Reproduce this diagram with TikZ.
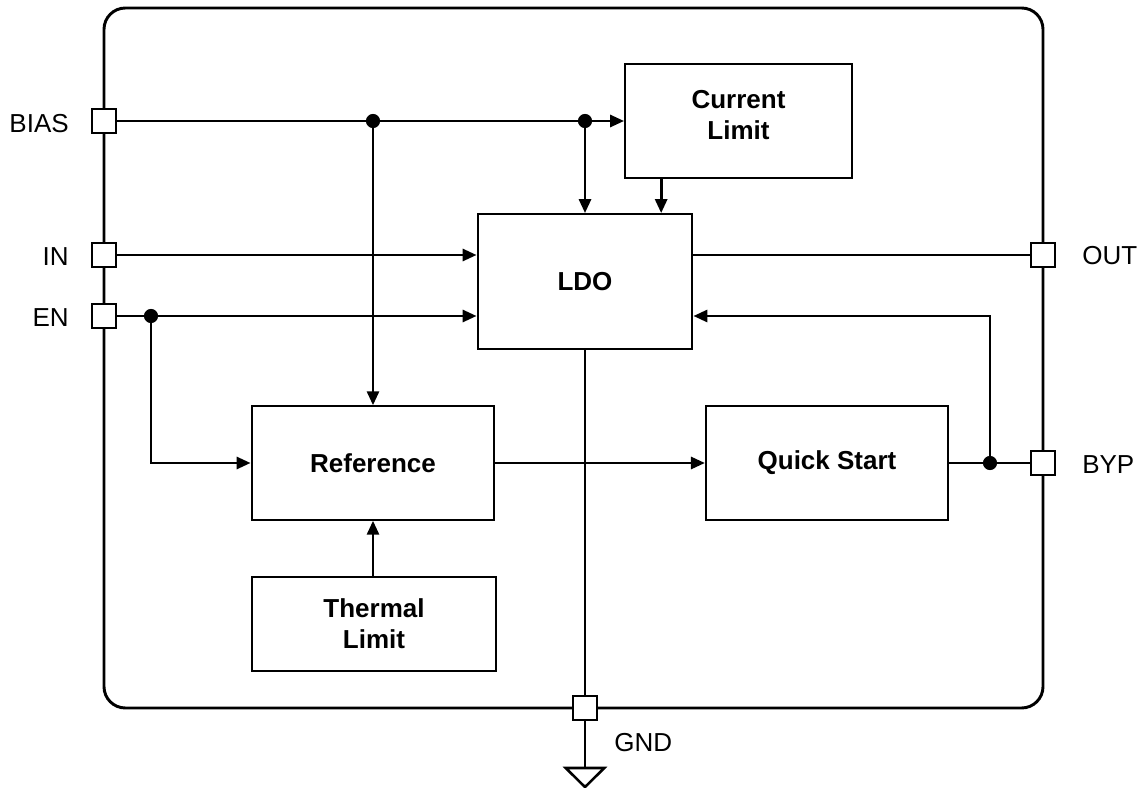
\documentclass[tikz,border=0pt]{standalone}
\usepackage{fontspec}
\setmainfont{Liberation Sans}
\usetikzlibrary{arrows.meta}
\begin{document}
\begin{tikzpicture}[x=0.75pt,y=-0.75pt,
  blk/.style={draw,line width=1.6pt,fill=white,align=center,font=\fontsize{19.5}{23}\selectfont\bfseries},
  wire/.style={line width=2.15pt},
  arr/.style={wire,-{Triangle[length=10.5pt,width=9pt]}},
  pin/.style={draw,line width=1.9pt,fill=white,minimum size=18pt,inner sep=0pt},
  lbl/.style={font=\fontsize{19.5}{24}\selectfont,inner sep=0pt},
  dot/.style={fill=black}]
\useasboundingbox (0,0) rectangle (1143,788);
% outer package
\draw[line width=2.2pt,rounded corners=16pt] (104,8) rectangle (1043,708);
% pin positions
\coordinate (pbias) at (104,121);
\coordinate (pin) at (104,255);
\coordinate (pen) at (104,316);
\coordinate (pout) at (1043,255);
\coordinate (pbyp) at (1043,463);
\coordinate (pgnd) at (585,708);
% blocks
\node[blk,minimum width=170pt,minimum height=85.5pt,text height=28pt] (cl) at (738.5,121) {Current\\Limit};
\node[blk,minimum width=161pt,minimum height=101pt] (ldo) at (585,281.5) {LDO};
\node[blk,minimum width=182pt,minimum height=85pt] (ref) at (373,463) {Reference};
\node[blk,minimum width=181.5pt,minimum height=85pt] (qs) at (827,463) {Quick Start};
\node[blk,minimum width=183pt,minimum height=70.5pt] (th) at (374,624) {Thermal\\Limit};
% junction dots
\coordinate (d1) at (373,121);
\coordinate (d2) at (585,121);
\coordinate (d3) at (151,316);
\coordinate (d4) at (990,463);
% connectors
\draw[arr] (pbias) -- (cl.west);
\draw[arr] (d1) -- (ref.north);
\draw[arr] (d2) -- (d2 |- ldo.north);
\draw[arr] ([xshift=-58pt]cl.south) -- ([xshift=-58pt]cl.south |- ldo.north);
\draw[arr] (pin) -- (pin -| ldo.west);
\draw[arr] (pen) -- (pen -| ldo.west);
\draw[arr] (d3) |- (ref.west);
\draw[arr] (ref.east) -- (qs.west);
\draw[wire] (qs.east) -- (pbyp);
\draw[arr] (d4) |- (pen -| ldo.east);
\draw[wire] (pout -| ldo.east) -- (pout);
\draw[wire] (ldo.south) -- (pgnd);
\draw[arr] (th.north -| ref.south) -- (ref.south);
% ground symbol
\coordinate (gtop) at (585,768);
\coordinate (gtip) at (585,787);
\draw[wire] (pgnd) -- (gtop);
\draw[line width=1.9pt,line join=miter] ([xshift=-14.5pt]gtop) -- ([xshift=14.5pt]gtop) -- (gtip) -- cycle;
% dots
\foreach \d in {d1,d2,d3,d4} \fill[dot] (\d) circle (5.3pt);
% pins
\node[pin] (nbias) at (pbias) {};
\node[pin] (nin) at (pin) {};
\node[pin] (nen) at (pen) {};
\node[pin] (nout) at (pout) {};
\node[pin] (nbyp) at (pbyp) {};
\node[pin] (ngnd) at (pgnd) {};
% labels
\node[lbl,anchor=east] (lbias) at (69,124) {BIAS};
\node[lbl,anchor=east] (lin) at (69,257) {IN};
\node[lbl,anchor=east] (len) at (69,318) {EN};
\node[lbl,anchor=west] (lout) at (1082,256) {OUT};
\node[lbl,anchor=west] (lbyp) at (1082,465) {BYP};
\node[lbl,anchor=west] (lgnd) at (614,743) {GND};
\end{tikzpicture}
\end{document}
